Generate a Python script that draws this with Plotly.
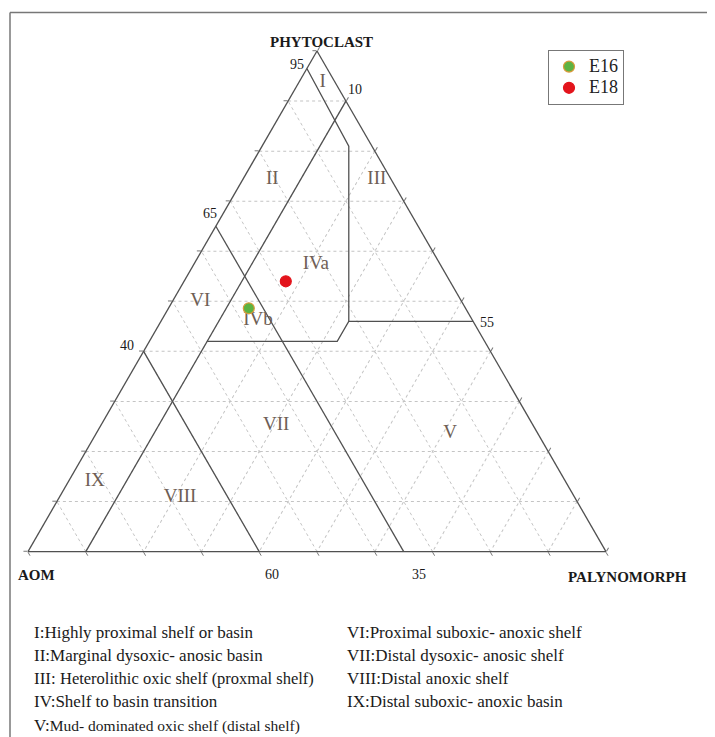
import plotly.graph_objects as go

# Ternary components (percent): a = PHYTOCLAST (top), b = AOM (left), c = PALYNOMORPH (right)
samples = ["E16", "E18"]
sample_phyto = [48.6, 54.0]
sample_aom = [37.5, 28.4]
sample_paly = [13.9, 17.6]
sample_fill = ["#5cb342", "#e3141c"]
sample_edge = ["#d99a3a", "#e3141c"]

# Field boundary polylines
boundary_phyto = [[90, 0], [40, 0], [65, 0], [96.5, 81, 46, 42, 42], [46, 46]]
boundary_aom = [[0, 90], [60, 60], [35, 35], [3.5, 4, 21.5, 25.5, 48], [21.5, 0]]
boundary_paly = [[10, 10], [0, 40], [0, 65], [0, 15, 32.5, 32.5, 10], [32.5, 54]]

# Field labels
zones = ["I", "II", "III", "IVa", "IVb", "V", "VI", "VII", "VIII", "IX"]
zone_phyto = [93.8, 74.3, 74.3, 57.4, 46.2, 23.7, 50.0, 25.3, 10.8, 14.1]
zone_aom = [2.1, 20.6, 2.5, 21.5, 37.1, 15.1, 45.2, 44.4, 68.3, 81.4]
zone_paly = [4.1, 5.1, 23.2, 21.1, 16.7, 61.2, 4.8, 30.3, 20.9, 4.5]

# Boundary value labels along the edges
edge_labels = ["95", "10", "65", "40", "55", "60", "35"]

legend_codes_left = ["I:", "II:", "III: ", "IV:", "V:"]
legend_left = [
    "Highly proximal shelf or basin",
    "Marginal dysoxic- anosic basin",
    "Heterolithic oxic shelf (proxmal shelf)",
    "Shelf to basin transition",
    "Mud- dominated oxic shelf (distal shelf)",
]
legend_left_size = [17, 17, 16.5, 17, 15.5]
legend_codes_right = ["VI:", "VII:", "VIII:", "IX:"]
legend_right = [
    "Proximal suboxic- anoxic shelf",
    "Distal dysoxic- anosic shelf",
    "Distal anoxic shelf",
    "Distal suboxic- anoxic basin",
]

OFF = 8  # page body margin
W, H = 715 - OFF, 737 - OFF
SERIF = "Liberation Serif"
LINE = "#505050"


def px(x):
    return (x - OFF) / W


def py(y):
    return 1 - (y - OFF) / H


fig = go.Figure()

for pa, pb, pc in zip(boundary_phyto, boundary_aom, boundary_paly):
    fig.add_trace(go.Scatterternary(
        a=pa, b=pb, c=pc, mode="lines",
        line=dict(color=LINE, width=1.3),
        showlegend=False, hoverinfo="skip"))

fig.add_trace(go.Scatterternary(
    a=zone_phyto, b=zone_aom, c=zone_paly, mode="text", text=zones,
    textposition="middle center",
    textfont=dict(family=SERIF, size=19, color="#6e5e55"),
    showlegend=False, hoverinfo="skip"))

for name, a, b, c, fc, ec in zip(samples, sample_phyto, sample_aom, sample_paly,
                                 sample_fill, sample_edge):
    fig.add_trace(go.Scatterternary(
        a=[a], b=[b], c=[c], mode="markers",
        name='<span style="font-size:18px">' + name + '</span>',
        marker=dict(size=11, color=fc, line=dict(color=ec, width=1.2))))

axis_common = dict(
    showgrid=True, gridcolor="#c4c4c4", griddash="dot", gridwidth=1,
    showline=True, linecolor=LINE, linewidth=1.3,
    ticks="outside", ticklen=4, tickcolor="#777777",
    showticklabels=False, dtick=10, tick0=0, title=dict(text=""),
)

fig.update_layout(
    width=W, height=H,
    margin=dict(l=0, r=0, t=0, b=0),
    paper_bgcolor="white",
    ternary=dict(
        sum=100,
        bgcolor="white",
        domain=dict(x=[px(28), px(606)], y=[py(551.6), py(51)]),
        aaxis=axis_common, baxis=axis_common, caxis=axis_common,
    ),
    showlegend=True,
    legend=dict(
        x=px(548), y=py(50), xanchor="left", yanchor="top",
        bgcolor="white", bordercolor="#777777", borderwidth=1,
        font=dict(family=SERIF, size=14, color="#222222"),
        itemwidth=30, tracegroupgap=0,
    ),
)

annotations = []
# vertex titles
for txt, x, y in [("PHYTOCLAST", 321, 42), ("AOM", 36, 575), ("PALYNOMORPH", 627, 577)]:
    annotations.append(dict(text="<b>" + txt + "</b>", x=px(x), y=py(y), xref="paper", yref="paper",
                            showarrow=False, xanchor="center", yanchor="middle",
                            font=dict(family=SERIF, size=15, color="#1a1a1a")))
# boundary value labels
edge_pos = [(297, 64), (355, 89), (210, 214), (127, 345), (487, 323), (272, 574), (419, 574)]
for txt, (x, y) in zip(edge_labels, edge_pos):
    annotations.append(dict(text=txt, x=px(x), y=py(y), xref="paper", yref="paper",
                            showarrow=False, xanchor="center", yanchor="middle",
                            font=dict(family=SERIF, size=14, color="#1a1a1a")))
# field descriptions
for i, (code, txt, sz) in enumerate(zip(legend_codes_left, legend_left, legend_left_size)):
    annotations.append(dict(text=code + '<span style="font-size:%spx">%s</span>' % (sz, txt),
                            x=px(32), y=py(632 + i * 23.3), xref="paper", yref="paper",
                            showarrow=False, xanchor="left", yanchor="middle",
                            font=dict(family=SERIF, size=17, color="#1a1a1a")))
for i, (code, txt) in enumerate(zip(legend_codes_right, legend_right)):
    annotations.append(dict(text=code + txt, x=px(345), y=py(632 + i * 23.3), xref="paper", yref="paper",
                            showarrow=False, xanchor="left", yanchor="middle",
                            font=dict(family=SERIF, size=17, color="#1a1a1a")))
fig.update_layout(annotations=annotations)

# outer frame (top and left edges visible)
fig.add_shape(type="line", xref="paper", yref="paper", x0=px(10), y0=py(12.5), x1=1.0, y1=py(12.5),
              line=dict(color="#777777", width=1.5))
fig.add_shape(type="line", xref="paper", yref="paper", x0=px(10), y0=py(12.5), x1=px(10), y1=0.0,
              line=dict(color="#777777", width=1.5))

fig.write_html("out.html")
